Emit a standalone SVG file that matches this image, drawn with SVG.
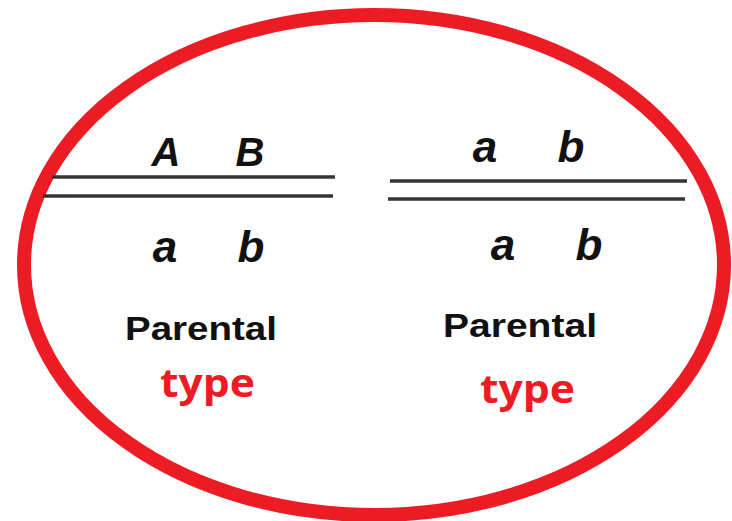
<svg xmlns="http://www.w3.org/2000/svg" width="732" height="521" viewBox="0 0 732 521">
<style>
.ring{fill:none;stroke:#ed1c24;stroke-width:14}
.ln{stroke:#333;stroke-width:3.5}
.g{font-family:"Liberation Sans",Arial,sans-serif;font-style:italic;font-weight:bold;fill:#111;text-anchor:middle}
.cap{font-size:40px}
.low{font-size:44px}
.par{font-family:"Liberation Sans",Arial,sans-serif;font-weight:bold;font-size:34px;fill:#111}
.typ{font-family:"Open Sans","Liberation Sans",sans-serif;font-weight:bold;font-size:40px;fill:#ed1c24}
</style>
<rect width="732" height="521" fill="#fff"/>
<ellipse id="ring" class="ring" cx="374" cy="265" rx="350" ry="250"/>
<g id="connectors">
<line class="ln" x1="52" y1="177" x2="335" y2="177"/>
<line class="ln" x1="43" y1="196" x2="333" y2="196"/>
<line class="ln" x1="390" y1="181" x2="687" y2="181"/>
<line class="ln" x1="388" y1="199" x2="685" y2="199"/>
</g>
<g id="left">
<text class="g cap" x="166" y="166">A</text>
<text class="g cap" x="250" y="166">B</text>
<text class="g low" x="165" y="262">a</text>
<text class="g low" x="251" y="262">b</text>
<text class="par" x="125" y="340" textLength="152" lengthAdjust="spacingAndGlyphs">Parental</text>
<text class="typ" x="160" y="397" textLength="95" lengthAdjust="spacingAndGlyphs">type</text>
</g>
<g id="right">
<text class="g low" x="485" y="162">a</text>
<text class="g low" x="571" y="162">b</text>
<text class="g low" x="503" y="260">a</text>
<text class="g low" x="589" y="260">b</text>
<text class="par" x="443" y="337" textLength="154" lengthAdjust="spacingAndGlyphs">Parental</text>
<text class="typ" x="480" y="403" textLength="95" lengthAdjust="spacingAndGlyphs">type</text>
</g>
</svg>
